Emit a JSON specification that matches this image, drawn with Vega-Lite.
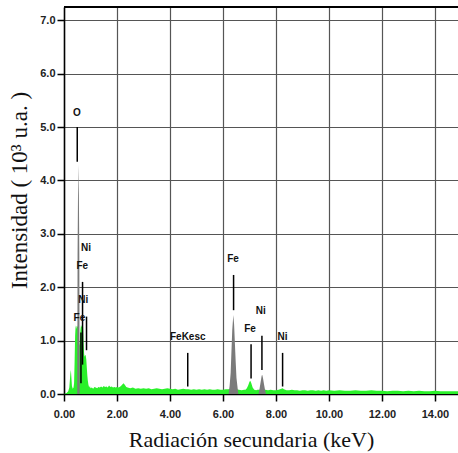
{
  "$schema": "https://vega.github.io/schema/vega-lite/v6.json",
  "width": 394,
  "height": 387,
  "autosize": {"type": "none"},
  "padding": {"left": 64, "top": 7, "right": 0, "bottom": 59},
  "background": "white",
  "config": {
    "view": {"stroke": null},
    "axis": {
      "labelFont": "Liberation Sans",
      "labelFontWeight": "bold",
      "labelFontSize": 11,
      "labelColor": "#222",
      "titleFont": "Liberation Serif",
      "titleFontWeight": "normal",
      "titleFontSize": 22,
      "titleColor": "#111",
      "domainColor": "#000",
      "domainWidth": 1.5,
      "tickColor": "#000",
      "tickWidth": 1.5,
      "tickSize": 7,
      "gridColor": "#555",
      "gridWidth": 1.2,
      "gridOpacity": 1
    }
  },
  "datasets": {
    "spectrum": [
      {"e":0,"c":0},{"e":0.1,"c":0.02},{"e":0.16,"c":0.05},{"e":0.2,"c":0.12},{"e":0.22,"c":0.25},{"e":0.24,"c":0.38},{"e":0.26,"c":0.45},{"e":0.28,"c":0.3},{"e":0.3,"c":0.15},{"e":0.33,"c":0.1},{"e":0.36,"c":0.12},{"e":0.38,"c":0.2},{"e":0.4,"c":0.6},{"e":0.42,"c":1.1},{"e":0.44,"c":1.29},{"e":0.46,"c":1.22},{"e":0.48,"c":1.28},{"e":0.5,"c":1.25},{"e":0.52,"c":1.29},{"e":0.54,"c":1.2},{"e":0.56,"c":1.0},{"e":0.58,"c":0.9},{"e":0.6,"c":1.0},{"e":0.62,"c":1.2},{"e":0.64,"c":1.29},{"e":0.66,"c":1.25},{"e":0.68,"c":1.3},{"e":0.7,"c":1.33},{"e":0.72,"c":1.25},{"e":0.74,"c":0.95},{"e":0.76,"c":0.75},{"e":0.78,"c":0.7},{"e":0.8,"c":0.73},{"e":0.82,"c":0.72},{"e":0.84,"c":0.65},{"e":0.86,"c":0.5},{"e":0.88,"c":0.35},{"e":0.9,"c":0.25},{"e":0.92,"c":0.18},{"e":0.95,"c":0.12},{"e":0.98,"c":0.15},{"e":1.0,"c":0.11},{"e":1.05,"c":0.12},{"e":1.1,"c":0.1},{"e":1.15,"c":0.13},{"e":1.2,"c":0.12},{"e":1.25,"c":0.11},{"e":1.3,"c":0.13},{"e":1.35,"c":0.12},{"e":1.4,"c":0.14},{"e":1.45,"c":0.12},{"e":1.5,"c":0.15},{"e":1.55,"c":0.13},{"e":1.6,"c":0.14},{"e":1.65,"c":0.12},{"e":1.7,"c":0.16},{"e":1.75,"c":0.13},{"e":1.8,"c":0.14},{"e":1.85,"c":0.12},{"e":1.9,"c":0.13},{"e":1.95,"c":0.12},{"e":2.0,"c":0.13},{"e":2.05,"c":0.12},{"e":2.1,"c":0.13},{"e":2.15,"c":0.15},{"e":2.2,"c":0.18},{"e":2.25,"c":0.2},{"e":2.3,"c":0.17},{"e":2.35,"c":0.13},{"e":2.4,"c":0.12},{"e":2.5,"c":0.11},{"e":2.6,"c":0.12},{"e":2.7,"c":0.1},{"e":2.8,"c":0.11},{"e":2.9,"c":0.1},{"e":3.0,"c":0.11},{"e":3.1,"c":0.1},{"e":3.2,"c":0.11},{"e":3.3,"c":0.09},{"e":3.4,"c":0.1},{"e":3.5,"c":0.11},{"e":3.6,"c":0.1},{"e":3.7,"c":0.09},{"e":3.8,"c":0.1},{"e":3.9,"c":0.11},{"e":4.0,"c":0.1},{"e":4.1,"c":0.09},{"e":4.2,"c":0.1},{"e":4.3,"c":0.08},{"e":4.4,"c":0.09},{"e":4.5,"c":0.1},{"e":4.6,"c":0.09},{"e":4.7,"c":0.09},{"e":4.8,"c":0.08},{"e":4.9,"c":0.09},{"e":5.0,"c":0.08},{"e":5.1,"c":0.09},{"e":5.2,"c":0.08},{"e":5.3,"c":0.09},{"e":5.4,"c":0.08},{"e":5.5,"c":0.09},{"e":5.6,"c":0.08},{"e":5.7,"c":0.08},{"e":5.8,"c":0.09},{"e":5.9,"c":0.08},{"e":6.0,"c":0.08},{"e":6.1,"c":0.09},{"e":6.2,"c":0.09},{"e":6.3,"c":0.1},{"e":6.4,"c":0.1},{"e":6.5,"c":0.09},{"e":6.6,"c":0.08},{"e":6.7,"c":0.07},{"e":6.8,"c":0.08},{"e":6.85,"c":0.08},{"e":6.9,"c":0.11},{"e":6.95,"c":0.16},{"e":7.0,"c":0.23},{"e":7.03,"c":0.25},{"e":7.07,"c":0.2},{"e":7.12,"c":0.12},{"e":7.18,"c":0.08},{"e":7.25,"c":0.07},{"e":7.3,"c":0.08},{"e":7.4,"c":0.08},{"e":7.5,"c":0.08},{"e":7.6,"c":0.08},{"e":7.7,"c":0.07},{"e":7.8,"c":0.08},{"e":7.9,"c":0.07},{"e":8.0,"c":0.07},{"e":8.1,"c":0.08},{"e":8.2,"c":0.1},{"e":8.25,"c":0.11},{"e":8.3,"c":0.09},{"e":8.4,"c":0.07},{"e":8.5,"c":0.07},{"e":8.6,"c":0.08},{"e":8.7,"c":0.07},{"e":8.8,"c":0.07},{"e":8.9,"c":0.06},{"e":9.0,"c":0.07},{"e":9.1,"c":0.07},{"e":9.2,"c":0.06},{"e":9.3,"c":0.07},{"e":9.4,"c":0.07},{"e":9.5,"c":0.06},{"e":9.6,"c":0.07},{"e":9.7,"c":0.06},{"e":9.8,"c":0.07},{"e":9.9,"c":0.06},{"e":10.0,"c":0.07},{"e":10.2,"c":0.06},{"e":10.4,"c":0.07},{"e":10.6,"c":0.06},{"e":10.8,"c":0.06},{"e":11.0,"c":0.07},{"e":11.2,"c":0.06},{"e":11.4,"c":0.06},{"e":11.6,"c":0.07},{"e":11.8,"c":0.06},{"e":12.0,"c":0.06},{"e":12.2,"c":0.05},{"e":12.4,"c":0.06},{"e":12.6,"c":0.06},{"e":12.8,"c":0.05},{"e":13.0,"c":0.06},{"e":13.2,"c":0.05},{"e":13.4,"c":0.06},{"e":13.6,"c":0.05},{"e":13.8,"c":0.05},{"e":14.0,"c":0.06},{"e":14.2,"c":0.05},{"e":14.4,"c":0.05},{"e":14.6,"c":0.05},{"e":14.87,"c":0.05}
    ],
    "peaks": [
      {"el":"O","e":0.5,"c":0},{"el":"O","e":0.512,"c":2.6},{"el":"O","e":0.528,"c":3.7},{"el":"O","e":0.545,"c":4.3},{"el":"O","e":0.562,"c":3.7},{"el":"O","e":0.578,"c":2.6},{"el":"O","e":0.59,"c":0},
      {"el":"FeKa","e":6.21,"c":0},{"el":"FeKa","e":6.25,"c":0.15},{"el":"FeKa","e":6.29,"c":0.4},{"el":"FeKa","e":6.32,"c":0.8},{"el":"FeKa","e":6.35,"c":1.2},{"el":"FeKa","e":6.39,"c":1.48},{"el":"FeKa","e":6.42,"c":1.3},{"el":"FeKa","e":6.45,"c":0.95},{"el":"FeKa","e":6.48,"c":0.6},{"el":"FeKa","e":6.51,"c":0.3},{"el":"FeKa","e":6.55,"c":0.12},{"el":"FeKa","e":6.58,"c":0},
      {"el":"NiKa","e":7.34,"c":0},{"el":"NiKa","e":7.38,"c":0.1},{"el":"NiKa","e":7.42,"c":0.22},{"el":"NiKa","e":7.46,"c":0.34},{"el":"NiKa","e":7.48,"c":0.36},{"el":"NiKa","e":7.51,"c":0.3},{"el":"NiKa","e":7.55,"c":0.18},{"el":"NiKa","e":7.59,"c":0.07},{"el":"NiKa","e":7.62,"c":0}
    ],
    "lines": [
      {"e":0.5,"y1":4.35,"y2":5.0},
      {"e":0.7,"y1":0.55,"y2":2.1},
      {"e":0.64,"y1":0.2,"y2":1.15},
      {"e":0.85,"y1":0.82,"y2":1.45},
      {"e":4.67,"y1":0.14,"y2":0.77},
      {"e":6.4,"y1":1.57,"y2":2.23},
      {"e":7.06,"y1":0.29,"y2":0.93},
      {"e":7.47,"y1":0.45,"y2":1.09},
      {"e":8.25,"y1":0.14,"y2":0.77}
    ],
    "labels": [
      {"t":"O","e":0.49,"y":5.26},
      {"t":"Ni","e":0.83,"y":2.73},
      {"t":"Fe","e":0.69,"y":2.4},
      {"t":"Ni","e":0.73,"y":1.76},
      {"t":"Fe","e":0.58,"y":1.42},
      {"t":"FeKesc","e":4.67,"y":1.07},
      {"t":"Fe","e":6.38,"y":2.52},
      {"t":"Fe","e":7.02,"y":1.22},
      {"t":"Ni","e":7.43,"y":1.55},
      {"t":"Ni","e":8.25,"y":1.07}
    ],
    "border": [{"top": 7.25}]
  },
  "layer": [
    {
      "data": {"name": "spectrum"},
      "mark": {"type": "area", "color": "#2af02a", "opacity": 1},
      "encoding": {
        "x": {
          "field": "e", "type": "quantitative",
          "scale": {"domain": [0, 14.87], "nice": false, "zero": false},
          "axis": {
            "values": [0, 2, 4, 6, 8, 10, 12, 14],
            "format": ".2f",
            "labelPadding": 7,
            "title": "Radiación secundaria (keV)",
            "titlePadding": 10,
            "titleX": 187,
            "labelFlush": false
          }
        },
        "y": {
          "field": "c", "type": "quantitative",
          "scale": {"domain": [0, 7.25], "nice": false},
          "axis": {
            "values": [0, 1, 2, 3, 4, 5, 6, 7],
            "format": ".1f",
            "labelPadding": 2,
            "title": "Intensidad ( 10³ u.a. )",
            "titleFontSize": 23,
            "titlePadding": 8,
            "titleY": 183
          }
        }
      }
    },
    {
      "data": {"name": "peaks"},
      "mark": {"type": "area", "color": "#7a7a7a", "opacity": 1},
      "encoding": {
        "x": {"field": "e", "type": "quantitative"},
        "y": {"field": "c", "type": "quantitative"},
        "detail": {"field": "el"}
      }
    },
    {
      "data": {"name": "lines"},
      "mark": {"type": "rule", "color": "#000", "strokeWidth": 1.5},
      "encoding": {
        "x": {"field": "e", "type": "quantitative"},
        "y": {"field": "y1", "type": "quantitative"},
        "y2": {"field": "y2"}
      }
    },
    {
      "data": {"name": "labels"},
      "mark": {"type": "text", "font": "Liberation Sans", "fontWeight": "bold", "fontSize": 10, "color": "#111", "align": "center", "baseline": "middle"},
      "encoding": {
        "x": {"field": "e", "type": "quantitative"},
        "y": {"field": "y", "type": "quantitative"},
        "text": {"field": "t"}
      }
    },
    {
      "data": {"name": "border"},
      "mark": {"type": "rule", "color": "#000", "strokeWidth": 2},
      "encoding": {
        "y": {"field": "top", "type": "quantitative"}
      }
    }
  ]
}
